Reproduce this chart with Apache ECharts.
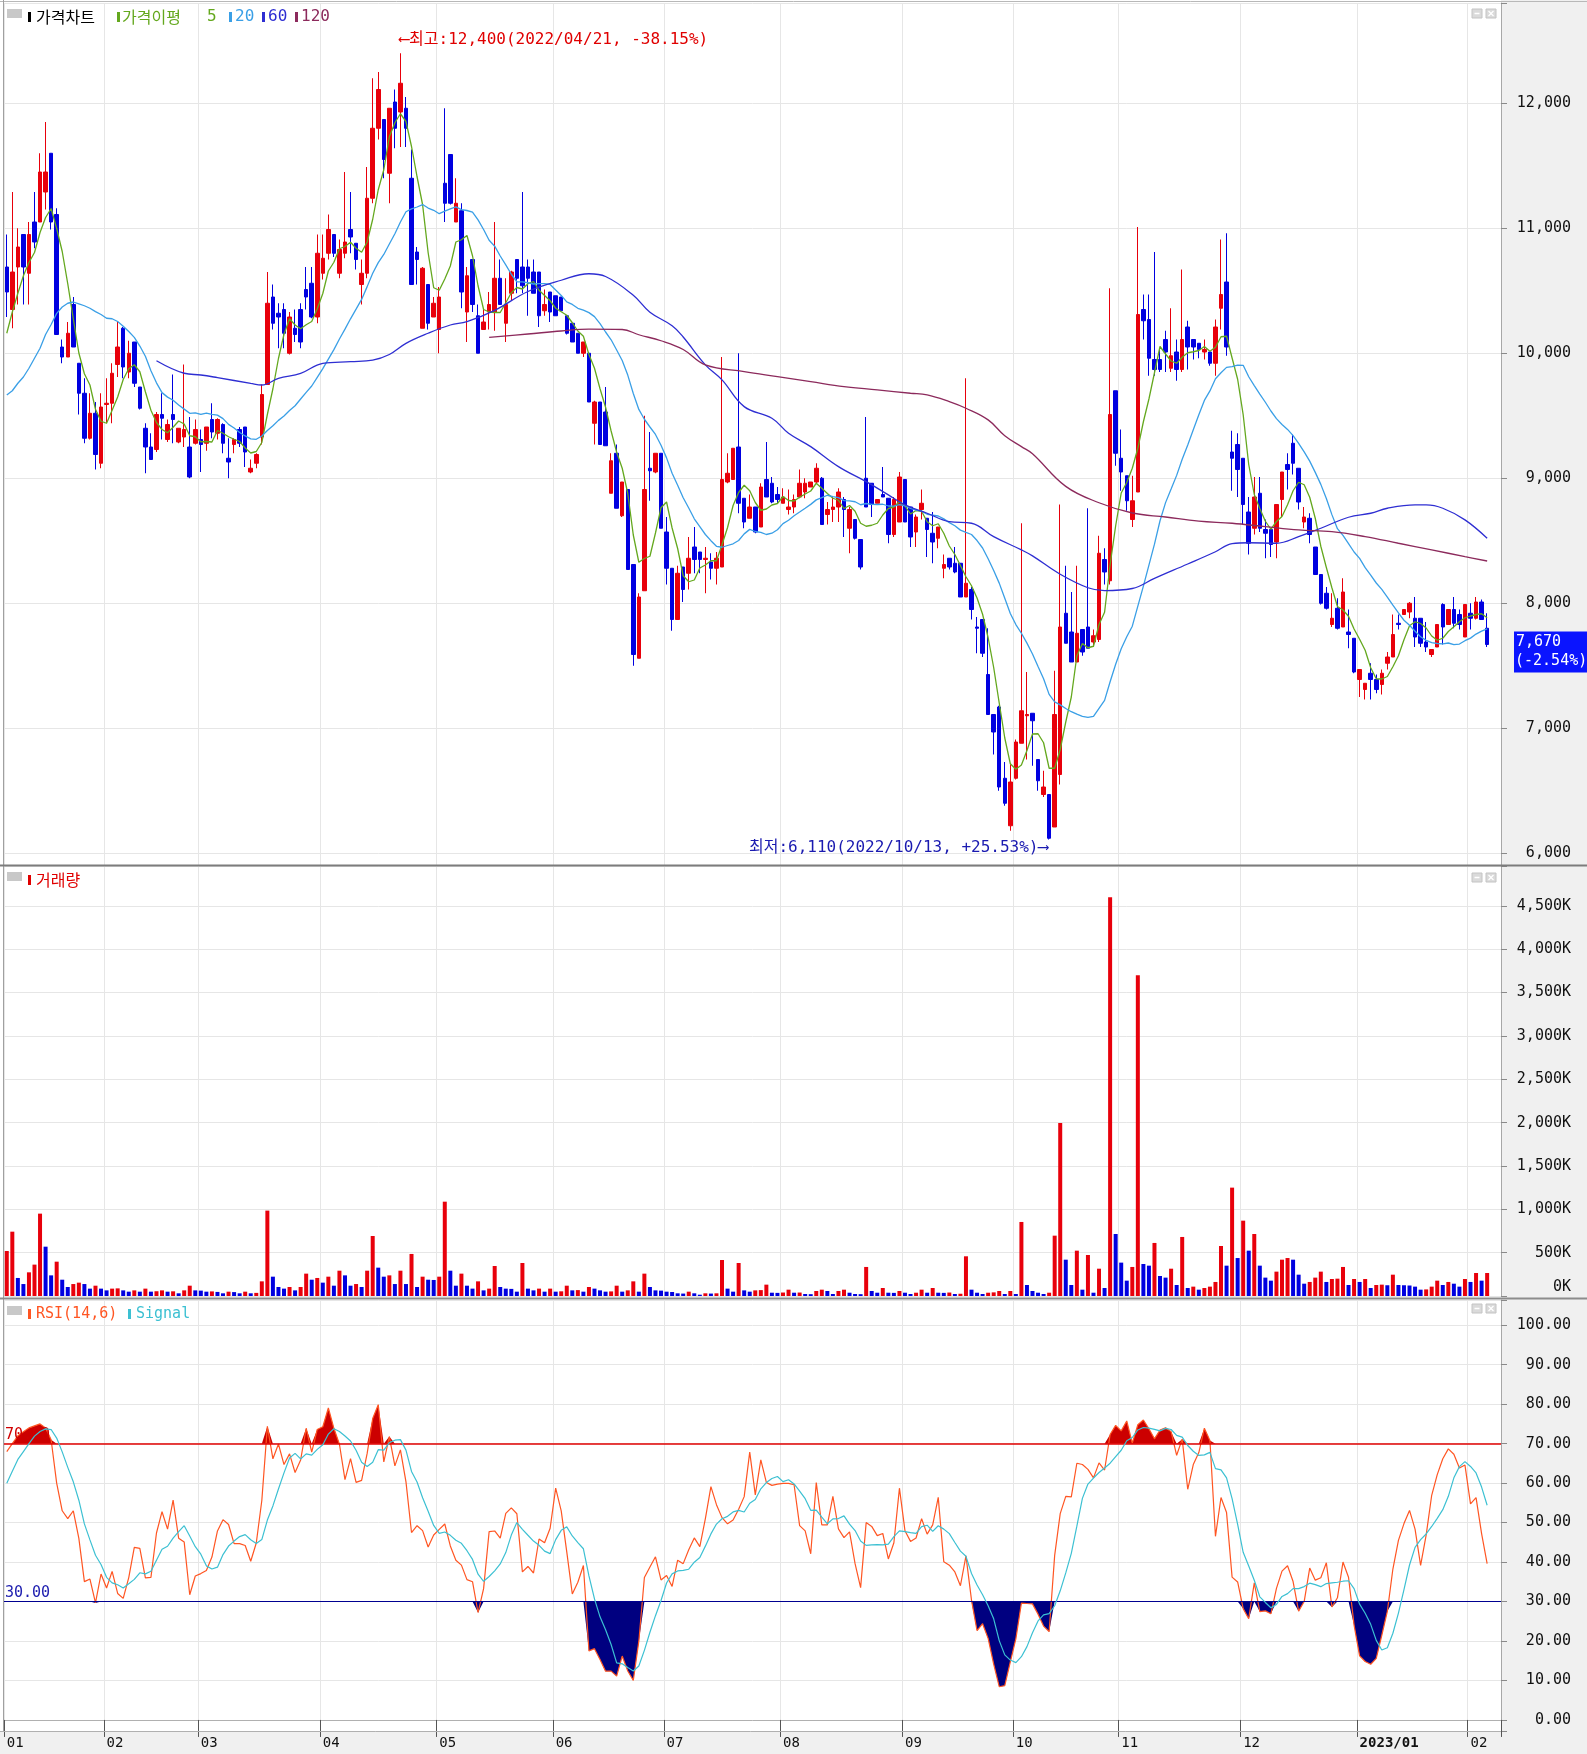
<!DOCTYPE html>
<html><head><meta charset="utf-8">
<script src="https://cdn.jsdelivr.net/npm/echarts@6/dist/echarts.min.js"></script>
<style>html,body{margin:0;padding:0;background:#fff}#c{width:1587px;height:1754px}</style>
</head><body><div id="c"></div>
<script>
// ---------------- data ----------------
const openP = [
10690,10350,10690,10950,10640,11050,11050,11290,11600,11110,
10050,9970,10390,9920,9680,9320,9520,9120,9590,9600,
9910,10200,9850,10090,9730,9400,9250,9230,9510,9310,
9510,9290,9330,9250,9280,9310,9280,9470,9360,9430,
9160,9270,9390,9410,9050,9120,9330,9750,10450,10320,
10350,10000,10200,10350,10510,10560,10290,10640,10800,10950,
10640,10800,10990,10880,10550,10640,11240,11800,11870,11440,
12010,11930,11960,11400,10810,10200,10550,10290,10190,11360,
11590,11050,11140,10330,10750,10300,10190,10330,10330,10600,
10240,10480,10750,10690,10690,10650,10650,10340,10490,10460,
10450,10300,10240,10160,10000,10000,9440,9610,9530,8880,
9200,8700,8910,8310,7560,8100,9080,9050,9200,8570,
8280,7870,8290,8240,8450,8410,8350,8330,8280,8290,
8970,8990,9250,8840,8680,8770,8610,8990,8960,8870,
8800,8750,8770,8850,8890,8930,8970,9000,8710,8750,
8770,8830,8600,8670,8510,9000,8960,8800,8870,8840,
8550,8650,8990,8770,8570,8750,8680,8560,8520,8280,
8360,8320,8320,8050,8110,7810,7870,7430,7110,7170,
6600,6220,6600,6880,7100,7120,6750,6470,6470,6210,
6630,7920,7770,7530,7790,7810,7690,7710,8350,8180,
9700,9160,9020,8670,8890,10350,10270,9950,9950,10110,
9880,10010,9870,10210,10110,10080,10010,10010,9920,10360,
10570,9210,9270,9160,8730,8600,8880,8590,8590,8490,
8830,9110,9280,9080,8650,8680,8450,8230,8080,7830,
7960,7810,7770,7720,7390,7310,7440,7390,7350,7520,
7570,7840,7910,7930,7880,7880,7690,7590,7650,7990,
7830,7950,7910,7730,7920,7880,8010,7800];
const highP = [
10950,11290,11000,10950,11050,11290,11600,11850,11600,11160,
10110,10250,10450,9920,9800,9680,9610,9680,9800,9920,
10250,10210,10100,10090,9730,9440,9360,9530,9680,9470,
9830,9400,9910,9490,9470,9390,9410,9600,9480,9440,
9320,9320,9410,9410,9150,9200,9750,10650,10550,10400,
10400,10330,10350,10400,10690,10690,10950,10950,11110,10950,
10910,11450,11290,10880,10750,11490,12200,12250,11870,11960,
12110,12400,12050,11630,10850,10690,10550,10450,10530,11960,
11590,11400,11200,10690,10750,10390,10360,10490,11050,10750,
10600,10660,10750,11290,10750,10750,10650,10510,10490,10460,
10450,10300,10240,10160,10090,10000,9620,9610,9730,9200,
9270,8970,8910,8310,8080,9500,9370,9200,9200,8690,
8280,8300,8290,8530,8610,8410,8450,8400,8410,9970,
9200,9240,10000,8840,8870,8770,8960,9290,9010,8930,
8920,8910,8870,9070,9000,8970,9120,9010,8810,8850,
8920,8850,8770,8670,8510,9490,8960,8830,9090,8840,
8850,9050,8990,8770,8710,8910,8680,8730,8610,8390,
8360,8450,8320,9800,8130,7890,7870,7800,7110,7180,
6730,6710,6910,8640,7450,7120,6750,6660,6470,7460,
8790,8300,8090,8300,7790,8760,7790,8540,8440,10520,
9700,9390,9020,9020,11010,10470,10470,10810,10030,10180,
10360,10110,10670,10260,10110,10080,10110,10010,10270,10910,
10960,9380,9360,9160,8850,9010,9010,8670,8590,8790,
9050,9200,9350,9080,8770,8720,8450,8230,8130,8080,
8040,8200,7950,7720,7470,7360,7520,7430,7470,7610,
7910,7910,7950,8010,8050,7880,7850,7630,7830,8000,
7950,8050,7950,7990,8000,8050,8030,7920];
const lowP = [
10290,10200,10390,10390,10390,10840,11050,11150,10990,10150,
9920,9970,10050,9510,9280,9310,9070,9080,9440,9440,
9810,9800,9800,9730,9550,9040,9150,9210,9310,9290,
9280,9280,9250,9000,9270,9050,9220,9320,9310,9200,
9000,9200,9250,9090,9040,9080,9270,9750,10190,10040,
10040,9990,10090,10040,10350,10280,10240,10590,10750,10770,
10600,10760,10800,10670,10390,10600,11200,11710,11400,11200,
11640,11650,11650,10550,10550,10200,10190,10290,10000,11050,
11190,11050,10360,10090,10330,10000,10190,10190,10180,10390,
10090,10420,10480,10480,10300,10480,10210,10300,10250,10300,
10340,10150,10090,10000,9970,9610,9270,9270,9260,8880,
8760,8690,8270,7500,7560,8100,8820,9040,8600,8150,
7780,7870,8010,8110,8240,8240,8080,8190,8150,8290,
8960,8990,8720,8600,8680,8560,8610,8850,8800,8800,
8800,8710,8720,8840,8840,8930,8960,8630,8630,8650,
8650,8530,8400,8510,8270,8770,8690,8800,8850,8480,
8530,8650,8650,8450,8450,8670,8370,8320,8440,8200,
8270,8240,8050,8050,7870,7600,7570,7110,6790,6500,
6380,6180,6590,6880,6750,6700,6500,6450,6110,6210,
6550,7680,7530,7530,7580,7640,7650,7690,8150,8150,
9100,8900,8740,8610,8890,10110,9820,9820,9850,9850,
9850,9780,9850,9870,9950,9960,9950,9900,9820,10190,
9980,8900,8850,8630,8390,8550,8570,8360,8370,8360,
8690,8910,9030,8750,8600,8480,8230,7990,7950,7810,
7790,7810,7640,7440,7250,7230,7230,7280,7270,7470,
7570,7790,7910,7880,7650,7650,7610,7570,7650,7670,
7830,7800,7790,7730,7790,7870,7870,7650];
const closeP = [
10490,10650,10850,10690,10950,10890,11450,11450,11050,10150,
9970,10160,10050,9680,9320,9520,9190,9570,9600,9840,
10050,9890,10000,9760,9560,9250,9150,9510,9480,9430,
9470,9400,9390,9010,9390,9270,9410,9370,9470,9280,
9130,9310,9280,9210,9080,9190,9670,10400,10240,10290,
10160,10290,10150,10090,10450,10290,10800,10760,10990,10800,
10830,10890,10930,10750,10640,11240,11800,12110,11550,11960,
11800,12160,11800,10550,10750,10680,10240,10400,10450,11200,
11200,11200,10490,10620,10390,10000,10250,10390,10600,10390,
10390,10650,10600,10540,10600,10480,10300,10390,10330,10300,
10340,10160,10090,10000,10090,9610,9610,9270,9260,9140,
8760,8970,8270,7590,8050,8910,9060,9200,8600,8280,
7870,8240,8110,8360,8350,8350,8360,8280,8360,8990,
9040,9240,8800,8650,8770,8570,8930,8850,8810,8830,
8850,8770,8830,8960,8960,8970,9080,8630,8750,8770,
8890,8750,8750,8520,8290,8770,8790,8830,8850,8550,
8830,9010,8650,8530,8690,8800,8590,8490,8610,8310,
8290,8250,8050,8160,7950,7800,7600,7110,6970,6530,
6400,6570,6890,7140,7110,7060,6580,6530,6120,7110,
7810,7680,7530,7760,7610,7640,7740,8400,8250,9510,
9200,9050,8820,8820,10310,10260,9960,9870,9870,10010,
9980,9870,10110,10050,10050,10030,10030,9920,10210,10470,
10050,9160,9070,8790,8480,8850,8600,8560,8470,8790,
9050,9070,9120,8810,8690,8550,8230,8000,7960,7880,
7800,8090,7750,7450,7470,7360,7390,7310,7440,7570,
7750,7830,7950,8000,7730,7680,7650,7630,7830,7810,
7950,7840,7830,7990,7880,8010,7870,7670];
// volume in thousands of shares
const volumeK = [
519,742,208,138,273,362,950,569,238,396,
188,104,138,154,138,85,119,85,65,85,
88,65,50,65,50,85,50,55,65,50,
54,31,65,119,65,62,50,53,47,31,
50,45,31,50,31,36,169,985,223,104,
85,104,65,104,258,188,208,154,223,119,
292,238,119,138,104,292,692,327,223,238,
138,292,138,485,104,223,188,185,223,1088,
292,119,258,119,85,169,65,85,346,104,
85,82,50,381,85,65,85,50,85,50,
54,119,65,68,50,104,85,65,50,53,
119,50,65,169,50,258,104,65,62,50,
46,31,28,50,31,15,31,28,31,415,
85,50,381,65,50,65,68,131,38,36,
40,73,38,40,23,21,58,73,58,23,
58,73,38,23,21,335,58,38,92,38,
36,58,38,23,38,73,38,92,38,36,
40,23,26,458,73,38,23,38,42,58,
23,58,23,854,127,58,38,23,38,696,
1996,419,127,523,73,473,38,315,92,4600,
715,385,177,335,3700,369,350,612,231,212,
315,127,681,92,108,73,92,108,162,577,
350,1250,438,869,523,715,350,212,177,281,
419,438,419,246,142,162,212,281,162,196,
200,335,127,196,162,196,92,127,131,124,
246,127,124,121,108,73,76,108,177,127,
162,142,108,196,162,265,177,265];
// moving-average values at the left edge (their windows start before the visible period)
const ma5Head = [10160,10330,10480,10620];
const ma20Head = [9666,9700,9760,9810,9880,9960,10040,10150,10230,10319,10370,10400,10410,10395,10380,10360,10333,10310,10280];
// 60- and 120-day averages read at points along their curves: [day index, price]
const ma60Pts = [[27,9940],[32,9840],[35,9826],[38,9805],[44,9759],[46,9746],[49,9799],[53,9839],[57,9919],[62,9933],[66,9945],[69,9990],[72,10079],[76,10160],[80,10226],[83,10253],[88,10343],[94,10494],[100,10584],[105,10636],[108,10614],[113,10464],[116,10328],[120,10220],[122,10130],[126,9907],[129,9787],[133,9573],[138,9480],[141,9360],[145,9253],[150,9093],[155,8973],[159,8867],[162,8787],[166,8720],[170,8653],[174,8640],[178,8533],[183,8427],[185,8379],[190,8232],[195,8124],[198,8101],[203,8118],[207,8199],[213,8314],[218,8412],[221,8477],[224,8484],[229,8480],[233,8533],[237,8600],[242,8688],[246,8720],[249,8760],[254,8787],[256,8787],[259,8760],[263,8667],[267,8520]];
const ma120Pts = [[87,10127],[94,10154],[100,10178],[105,10193],[111,10190],[114,10148],[118,10100],[122,10030],[126,9907],[133,9853],[139,9813],[145,9773],[151,9733],[157,9707],[163,9680],[166,9667],[170,9613],[173,9560],[177,9467],[180,9340],[183,9253],[185,9196],[191,8935],[197,8804],[203,8722],[209,8690],[215,8657],[221,8640],[227,8613],[233,8587],[239,8573],[245,8533],[251,8480],[257,8427],[263,8373],[267,8338]];
// RSI / signal at the left edge (their windows start before the visible period)
const rsiHead = [68,70,72,73,74,74.5,75,74,71,60,53,51,53,46];
const signalHead = [60,63,66,68,70];
const monthStarts = [0,18,35,57,78,99,119,140,162,182,201,223,244,264];
const monthLabels = ['01','02','03','04','05','06','07','08','09','10','11','12','2023/01','02'];
const hiDate = '2022/04/21', loDate = '2022/10/13';

// ---------------- derived series ----------------
const N = closeP.length;
const cats = Array.from({length: N + 2}, (_, i) => String(i));
const monthSet = new Set(monthStarts);
const labelOf = {}; monthStarts.forEach((d, k) => labelOf[d] = monthLabels[k]);
const UP = '#e8000b', DOWN = '#0000e0';
const candles = openP.map((o, i) => [o, closeP[i], lowP[i], highP[i]]);
function sma(n, head) {
  return closeP.map((c, i) => {
    if (i < n - 1) return head[i];
    let s = 0; for (let j = i - n + 1; j <= i; j++) s += closeP[j];
    return +(s / n).toFixed(1);
  });
}
const ma5 = sma(5, ma5Head), ma20 = sma(20, ma20Head);
function sparse(pts) { const a = new Array(N).fill(null); pts.forEach(([d, v]) => a[d] = v); return a; }
const ma60 = sparse(ma60Pts), ma120 = sparse(ma120Pts);
const vols = volumeK.map((v, i) => ({value: v, itemStyle: {color: (i === 0 || v >= volumeK[i - 1]) ? UP : DOWN}}));
const rsi = closeP.map((c, i) => {
  if (i < 14) return rsiHead[i];
  let g = 0, l = 0;
  for (let j = i - 13; j <= i; j++) { const d = closeP[j] - closeP[j - 1]; if (d > 0) g += d; else l -= d; }
  return g + l === 0 ? 50 : +(g / (g + l) * 100).toFixed(2);
});
const signal = rsi.map((r, i) => {
  if (i < 5) return signalHead[i];
  let s = 0; for (let j = i - 5; j <= i; j++) s += rsi[j];
  return +(s / 6).toFixed(2);
});
const hiBase = rsi.map(() => 70), hiFill = rsi.map(r => Math.max(r - 70, 0));
const loBase = rsi.map(r => Math.min(r, 30)), loFill = rsi.map(r => 30 - Math.min(r, 30));

const MONO = "'DejaVu Sans Mono','Noto Sans CJK KR',monospace";
const KR = "'Noto Sans CJK KR','Noto Sans',sans-serif";
const near = (v, step) => Math.abs(v - Math.round(v / step) * step) < 1e-6;
const fmt = v => Math.round(v).toLocaleString('en-US');

const GRID_LEFT = 4, GRID_W = 1497;
function xAx(k, bottom) {
  return {
    type: 'category', gridIndex: k, data: cats, boundaryGap: true,
    axisLine: {show: bottom, lineStyle: {color: '#b0b0b0'}},
    axisTick: {show: bottom, interval: (i) => monthSet.has(i), length: 17, lineStyle: {color: '#555'}},
    axisLabel: bottom ? {
      show: true, interval: (i) => monthSet.has(i), align: 'left', margin: 5,
      fontFamily: MONO, fontSize: 14, color: '#111',
      formatter: (v, i) => labelOf[i] === '2023/01' ? '{b|2023/01}' : (labelOf[i] || ''),
      rich: {b: {fontFamily: MONO, fontSize: 14, fontWeight: 'bold', color: '#111'}}
    } : {show: false},
    splitLine: {show: true, interval: (i) => monthSet.has(i), lineStyle: {color: '#e6e6e6', width: 1}}
  };
}
function yAx(k, min, max, step, fmtFn) {
  return {
    type: 'value', gridIndex: k, position: 'right', min: min, max: max,
    minInterval: step, maxInterval: step, splitNumber: 6, scale: false,
    axisLine: {show: true, lineStyle: {color: '#a8a8a8'}},
    axisTick: {show: true, length: 6, lineStyle: {color: '#8a8a8a'}},
    axisLabel: {align: 'right', margin: 70, fontFamily: MONO, fontSize: 15, color: '#111', formatter: fmtFn},
    splitLine: {show: true, lineStyle: {color: '#e6e6e6', width: 1}}
  };
}

const chart = echarts.init(document.getElementById('c'), null, {renderer: 'canvas'});
const option = {
  animation: false,
  backgroundColor: '#ffffff',
  grid: [
    {left: GRID_LEFT, top: 3, width: GRID_W, height: 862},
    {left: GRID_LEFT, top: 866, width: GRID_W, height: 430},
    {left: GRID_LEFT, top: 1300, width: GRID_W, height: 431}
  ],
  xAxis: [xAx(0, false), xAx(1, false), xAx(2, true)],
  yAxis: [
    yAx(0, 5906, 12802, 1000, v => near(v, 1000) ? fmt(v) : ''),
    yAx(1, 0, 4960, 500, v => (near(v, 500) && v > 0.5) ? fmt(v) + 'K' : ''),
    yAx(2, -2.8, 106.4, 10, v => (near(v, 10) && v > -0.5 && v < 100.5) ? Math.round(v).toFixed(2) : '')
  ],
  series: [
    {type: 'candlestick', name: '가격차트', xAxisIndex: 0, yAxisIndex: 0, data: candles, barWidth: 4,
      itemStyle: {color: UP, color0: DOWN, borderColor: UP, borderColor0: DOWN, borderWidth: 1}},
    {type: 'line', name: 'MA5', xAxisIndex: 0, yAxisIndex: 0, data: ma5, symbol: 'none', z: 4,
      lineStyle: {color: '#64a81e', width: 1.3}},
    {type: 'line', name: 'MA20', xAxisIndex: 0, yAxisIndex: 0, data: ma20, symbol: 'none', z: 4,
      lineStyle: {color: '#3a9fe6', width: 1.3}},
    {type: 'line', name: 'MA60', xAxisIndex: 0, yAxisIndex: 0, data: ma60, symbol: 'none', z: 4,
      connectNulls: true, smooth: 0.4, lineStyle: {color: '#2e2ed2', width: 1.3}},
    {type: 'line', name: 'MA120', xAxisIndex: 0, yAxisIndex: 0, data: ma120, symbol: 'none', z: 4,
      connectNulls: true, smooth: 0.4, lineStyle: {color: '#8c2a5c', width: 1.3}},
    {type: 'bar', name: '거래량', xAxisIndex: 1, yAxisIndex: 1, data: vols, barWidth: 4},
    {type: 'line', xAxisIndex: 2, yAxisIndex: 2, data: hiBase, stack: 'hi', symbol: 'none', silent: true,
      lineStyle: {opacity: 0, width: 0}, z: 1},
    {type: 'line', xAxisIndex: 2, yAxisIndex: 2, data: hiFill, stack: 'hi', symbol: 'none', silent: true,
      lineStyle: {opacity: 0, width: 0}, areaStyle: {color: '#cc0000', opacity: 1}, z: 1},
    {type: 'line', xAxisIndex: 2, yAxisIndex: 2, data: loBase, stack: 'lo', symbol: 'none', silent: true,
      lineStyle: {opacity: 0, width: 0}, z: 1},
    {type: 'line', xAxisIndex: 2, yAxisIndex: 2, data: loFill, stack: 'lo', symbol: 'none', silent: true,
      lineStyle: {opacity: 0, width: 0}, areaStyle: {color: '#000080', opacity: 1}, z: 1},
    {type: 'line', name: 'RSI(14,6)', xAxisIndex: 2, yAxisIndex: 2, data: rsi, symbol: 'none', z: 4,
      lineStyle: {color: '#ff5522', width: 1.2},
      markLine: {silent: true, symbol: ['none', 'none'], animation: false,
        label: {position: 'insideStartTop', distance: [1, 1], fontFamily: MONO, fontSize: 15},
        data: [
          {yAxis: 70, lineStyle: {color: '#e00000', width: 1.5, type: 'solid'}, label: {formatter: '70.00', color: '#d00000'}},
          {yAxis: 30, lineStyle: {color: '#000090', width: 1.2, type: 'solid'}, label: {formatter: '30.00', color: '#2020b0'}}
        ]}},
    {type: 'line', name: 'Signal', xAxisIndex: 2, yAxisIndex: 2, data: signal, symbol: 'none', z: 5,
      lineStyle: {color: '#3cc0d2', width: 1.2}}
  ]
};
chart.setOption(option);

// ---------------- frame, headers, annotations ----------------
const g = [];
g.push({type: 'rect', z: -5, shape: {x: 1501, y: 0, width: 86, height: 1754}, style: {fill: '#f0f0f0'}});
g.push({type: 'rect', z: -5, shape: {x: 0, y: 1732, width: 1587, height: 22}, style: {fill: '#f0f0f0'}});
g.push({type: 'line', z: 20, shape: {x1: 0, y1: 1.5, x2: 1587, y2: 1.5}, style: {stroke: '#b8b8b8', lineWidth: 1}});
g.push({type: 'line', z: 20, shape: {x1: 3.5, y1: 0, x2: 3.5, y2: 1732}, style: {stroke: '#a0a0a0', lineWidth: 1}});
g.push({type: 'line', z: 20, shape: {x1: 0, y1: 865.5, x2: 1587, y2: 865.5}, style: {stroke: '#7c7c7c', lineWidth: 2}});
g.push({type: 'line', z: 20, shape: {x1: 0, y1: 1298.5, x2: 1587, y2: 1298.5}, style: {stroke: '#8c8c8c', lineWidth: 2}});
g.push({type: 'line', z: 20, shape: {x1: 0, y1: 1731.5, x2: 1501, y2: 1731.5}, style: {stroke: '#b0b0b0', lineWidth: 1}});
function header(y, items) {
  g.push({type: 'rect', z: 20, shape: {x: 7, y: y - 8, width: 15, height: 9}, style: {fill: '#c8c8c8'}});
  items.forEach(it => {
    if (it.mk) g.push({type: 'rect', z: 20, shape: {x: it.x, y: y - 5, width: 3, height: 10}, style: {fill: it.color}});
    else g.push({type: 'text', z: 20, x: it.x, y: y, style: {text: it.t, fill: it.color, font: it.font, textVerticalAlign: 'middle', textAlign: 'left'}});
  });
}
header(17, [
  {mk: 1, x: 28, color: '#000'}, {x: 36, t: '가격차트', color: '#000', font: '16px ' + KR},
  {mk: 1, x: 117, color: '#64a81e'}, {x: 122, t: '가격이평', color: '#64a81e', font: '16px ' + KR},
  {x: 207, t: '5', color: '#64a81e', font: '16px ' + MONO},
  {mk: 1, x: 229, color: '#3a9fe6'}, {x: 235, t: '20', color: '#3a9fe6', font: '16px ' + MONO},
  {mk: 1, x: 262, color: '#2e2ed2'}, {x: 268, t: '60', color: '#2e2ed2', font: '16px ' + MONO},
  {mk: 1, x: 295, color: '#8c2a5c'}, {x: 301, t: '120', color: '#8c2a5c', font: '16px ' + MONO}
]);
header(880, [{mk: 1, x: 28, color: '#e00000'}, {x: 36, t: '거래량', color: '#e00000', font: '16px ' + KR}]);
header(1314, [
  {mk: 1, x: 28, color: '#ff5522'}, {x: 36, t: 'RSI(14,6)', color: '#ff5522', font: '15px ' + MONO},
  {mk: 1, x: 128, color: '#3cc0d2'}, {x: 136, t: 'Signal', color: '#3cc0d2', font: '15px ' + MONO}
]);
[9, 873, 1304].forEach(y => {
  g.push({type: 'rect', z: 20, shape: {x: 1472, y: y, width: 10, height: 9}, style: {fill: '#dadada', stroke: '#c4c4c4', lineWidth: 1}});
  g.push({type: 'line', z: 21, shape: {x1: 1474.5, y1: y + 4.5, x2: 1479.5, y2: y + 4.5}, style: {stroke: '#ffffff', lineWidth: 1.5}});
  g.push({type: 'rect', z: 20, shape: {x: 1486, y: y, width: 10, height: 9}, style: {fill: '#dadada', stroke: '#c4c4c4', lineWidth: 1}});
  g.push({type: 'line', z: 21, shape: {x1: 1488.5, y1: y + 2, x2: 1493.5, y2: y + 7}, style: {stroke: '#ffffff', lineWidth: 1.3}});
  g.push({type: 'line', z: 21, shape: {x1: 1493.5, y1: y + 2, x2: 1488.5, y2: y + 7}, style: {stroke: '#ffffff', lineWidth: 1.3}});
});
g.push({type: 'text', z: 20, x: 1571, y: 1287, style: {text: '0K', fill: '#111', font: '15px ' + MONO, textAlign: 'right', textVerticalAlign: 'middle'}});

// high / low annotations and last-price tag, placed through the axes
const last = closeP[N - 1], prev = closeP[N - 2];
let hiIdx = 0, loIdx = 0;
highP.forEach((h, i) => { if (h > highP[hiIdx]) hiIdx = i; });
lowP.forEach((l, i) => { if (l < lowP[loIdx]) loIdx = i; });
const hiPx = chart.convertToPixel({xAxisIndex: 0, yAxisIndex: 0}, [hiIdx, highP[hiIdx]]);
const loPx = chart.convertToPixel({xAxisIndex: 0, yAxisIndex: 0}, [loIdx, lowP[loIdx]]);
const pct = (a, b) => { const p = (a / b - 1) * 100; return (p >= 0 ? '+' : '') + p.toFixed(2) + '%'; };
g.push({type: 'text', z: 20, x: hiPx[0] - 1, y: hiPx[1] - 13, style: {
  text: '⟵최고:' + fmt(highP[hiIdx]) + '(' + hiDate + ', ' + pct(last, highP[hiIdx]) + ')',
  fill: '#e00000', font: '16px ' + MONO, textAlign: 'left', textVerticalAlign: 'middle'}});
g.push({type: 'text', z: 20, x: loPx[0] - 1, y: loPx[1] + 8, style: {
  text: '최저:' + fmt(lowP[loIdx]) + '(' + loDate + ', ' + pct(last, lowP[loIdx]) + ')⟶',
  fill: '#1a1ab0', font: '16px ' + MONO, textAlign: 'right', textVerticalAlign: 'middle'}});
const tagY = chart.convertToPixel({yAxisIndex: 0}, last);
g.push({type: 'rect', z: 20, shape: {x: 1514, y: tagY - 13, width: 73, height: 41}, style: {fill: '#0a14ff'}});
g.push({type: 'text', z: 21, x: 1516, y: tagY - 2, style: {text: fmt(last), fill: '#fff', font: '15px ' + MONO, textVerticalAlign: 'middle'}});
g.push({type: 'text', z: 21, x: 1515, y: tagY + 17, style: {text: '(' + pct(last, prev) + ')', fill: '#fff', font: '15px ' + MONO, textVerticalAlign: 'middle'}});
chart.setOption({graphic: {elements: g}});
</script>
</body></html>
